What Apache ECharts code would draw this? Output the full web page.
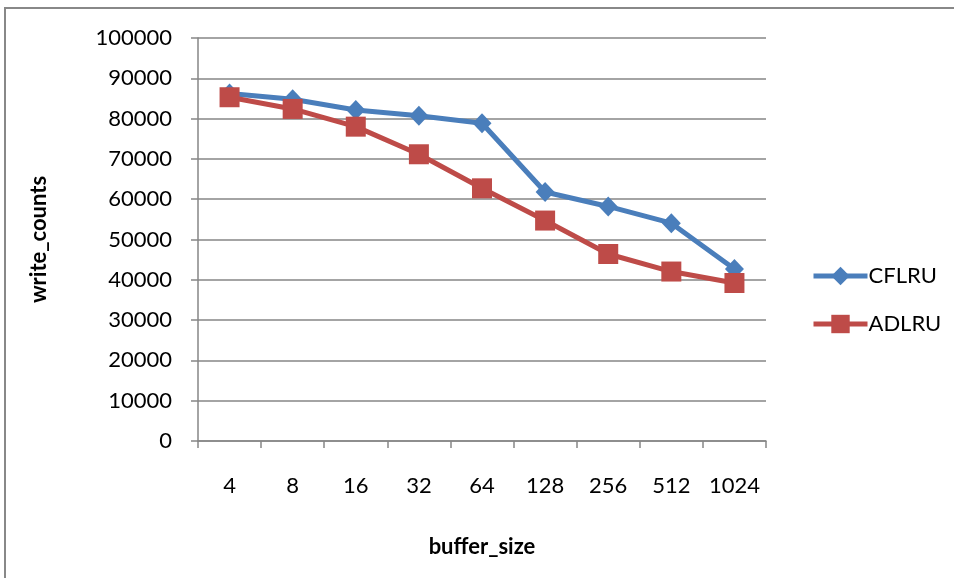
<!DOCTYPE html>
<html>
<head>
<meta charset="utf-8">
<script src="https://cdn.jsdelivr.net/npm/echarts@6/dist/echarts.min.js"></script>
<style>
  html, body { margin: 0; padding: 0; background: #fff; }
  #chart { width: 954px; height: 578px; }
</style>
</head>
<body>
<div id="chart"></div>
<script>
// Buffer sizes on the x axis
const bufferSizes = ['4', '8', '16', '32', '64', '128', '256', '512', '1024'];
// Write counts per policy
const cflru = [86200, 84800, 82150, 80700, 78850, 61800, 58200, 54050, 42700];
const adlru = [85300, 82400, 78000, 71150, 62700, 54700, 46400, 42050, 39200];

const font = 'Lato, "Open Sans", sans-serif';
const gridGray = '#868686';

const chart = echarts.init(document.getElementById('chart'));
chart.setOption({
  animation: false,
  backgroundColor: '#fff',
  graphic: [{
    type: 'rect',
    shape: { x: 5, y: 8, width: 1200, height: 800 },
    style: { fill: 'none', stroke: '#888888', lineWidth: 2 },
    silent: true
  }],
  grid: { left: 198, right: 188, top: 38, bottom: 137 },
  legend: {
    orient: 'vertical',
    left: 806,
    top: 260,
    itemWidth: 54,
    itemHeight: 23,
    itemGap: 26,
    lineStyle: { width: 5 },
    textStyle: { fontFamily: font, fontSize: 22, color: '#000', padding: [0, 0, 0, -4] },
    data: ['CFLRU', 'ADLRU']
  },
  xAxis: {
    type: 'category',
    data: bufferSizes,
    boundaryGap: true,
    name: 'buffer_size',
    nameLocation: 'middle',
    nameGap: 95,
    nameTextStyle: { fontFamily: font, fontSize: 22, fontWeight: 'bold', color: '#000' },
    axisLine: { lineStyle: { color: gridGray, width: 1.5 } },
    axisTick: { show: true, length: 7, interval: 0, alignWithLabel: false, lineStyle: { color: gridGray, width: 1.5 } },
    axisLabel: { fontFamily: font, fontSize: 22, color: '#000', margin: 34, interval: 0 }
  },
  yAxis: {
    type: 'value',
    min: 0,
    max: 100000,
    interval: 10000,
    name: 'write_counts',
    nameLocation: 'middle',
    nameGap: 148,
    nameTextStyle: { fontFamily: font, fontSize: 22, fontWeight: 'bold', color: '#000' },
    axisLine: { show: true, lineStyle: { color: gridGray, width: 1.5 } },
    axisTick: { show: true, length: 7, lineStyle: { color: gridGray, width: 1.5 } },
    axisLabel: { fontFamily: font, fontSize: 22, color: '#000', margin: 26, formatter: (v) => String(v) },
    splitLine: { show: true, lineStyle: { color: gridGray, width: 1.5 } }
  },
  series: [
    {
      name: 'CFLRU',
      type: 'line',
      data: cflru,
      symbol: 'diamond',
      symbolSize: [19, 20],
      lineStyle: { color: '#4A7EBB', width: 5 },
      itemStyle: { color: '#4A7EBB' },
      z: 2
    },
    {
      name: 'ADLRU',
      type: 'line',
      data: adlru,
      symbol: 'rect',
      symbolSize: 20,
      lineStyle: { color: '#BE4B48', width: 5 },
      itemStyle: { color: '#BE4B48' },
      z: 3
    }
  ]
});
</script>
</body>
</html>
